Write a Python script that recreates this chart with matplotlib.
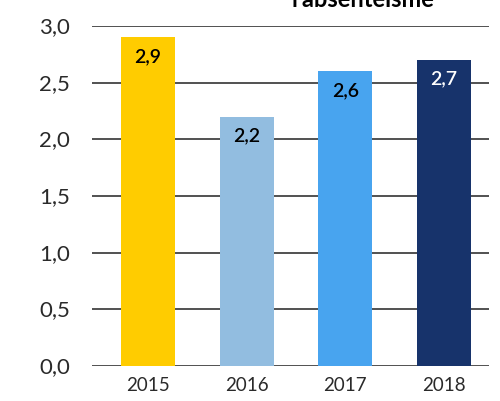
import numpy as np
import matplotlib
matplotlib.use("Agg")
from matplotlib import pyplot as plt

years = ["2015", "2016", "2017", "2018"]
values = [2.9, 2.2, 2.6, 2.7]
colors = ["#ffcc00", "#92bde0", "#48a4ef", "#17336b"]
label_colors = ["black", "black", "black", "white"]
yticks = [0.0, 0.5, 1.0, 1.5, 2.0, 2.5, 3.0]

plt.rcParams["font.family"] = ["Lato", "DejaVu Sans"]

fig = plt.figure(figsize=(5, 4.02), dpi=100)
ax = fig.add_axes([92 / 500, 1 - 367 / 402, (489 - 92) / 500, (367 - 27) / 402])

x = np.arange(len(years))
ax.bar(x, values, width=0.55, color=colors, zorder=3)

for xi, v, c in zip(x, values, label_colors):
    ax.annotate(f"{v:.1f}".replace(".", ","), (xi, v), xytext=(0, -13),
                textcoords="offset points", ha="center", va="center",
                fontsize=14, fontweight="semibold", color=c, zorder=4)

ax.set_xlim(-0.568, 3.456)
ax.set_ylim(0, 3.0)
ax.set_yticks(yticks)
ax.set_yticklabels([f"{t:.1f}".replace(".", ",") for t in yticks],
                   fontsize=16, color="#2a2a2a")
ax.set_xticks(x)
ax.set_xticklabels(years, fontsize=13.5, color="#2a2a2a")
ax.tick_params(length=0, axis="y", pad=16)
ax.tick_params(length=0, axis="x", pad=7)
for t in ax.get_yticklabels():
    t.set_verticalalignment("center")

for s in ax.spines.values():
    s.set_visible(False)
ax.grid(axis="y", color="#333333", linewidth=1.2, zorder=0)
ax.set_axisbelow(True)

fig.text(363 / 500, 1 - 7 / 402, "l'absentéisme", ha="center", va="baseline",
         fontsize=17, fontweight="bold", color="black")

fig.savefig("out.png", dpi=100)
